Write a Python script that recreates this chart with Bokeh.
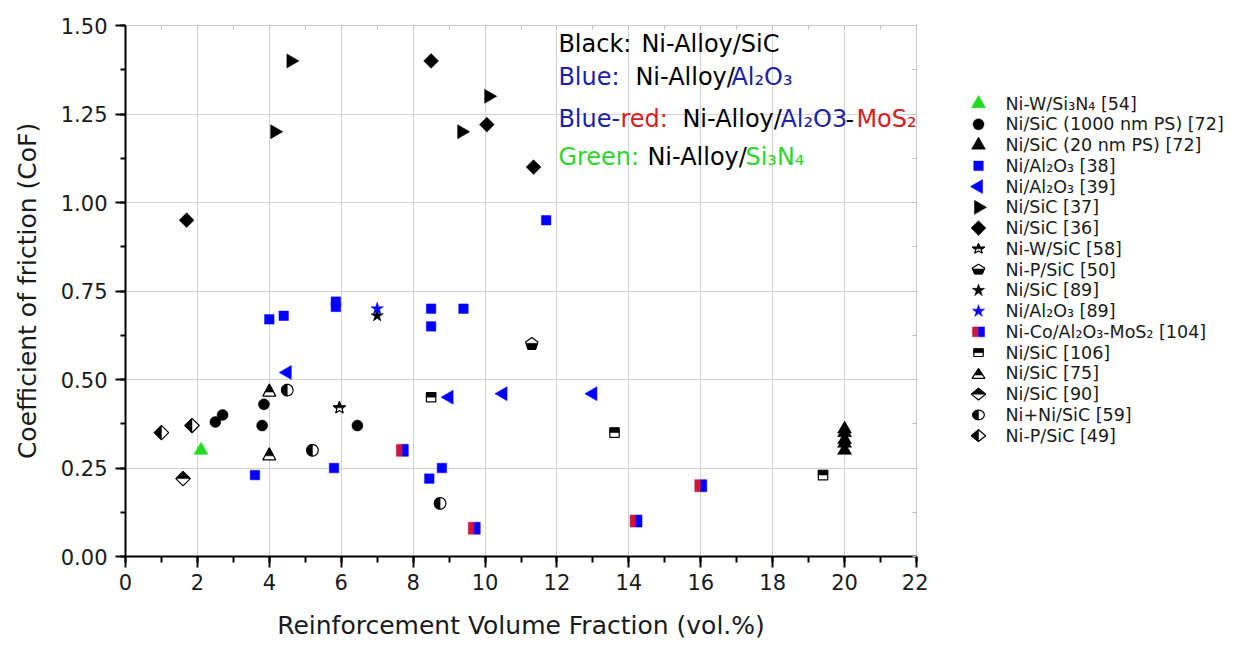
import math
from bokeh.plotting import figure
from bokeh.layouts import row
from bokeh.models import Range1d, Label, FixedTicker, LinearAxis, PrintfTickFormatter
from bokeh.embed import file_html
from bokeh.resources import INLINE
from bokeh.core.properties import value

FONT = "DejaVu Sans"

# ---------------- data ----------------
w_si3n4_54_x = [2.1]
w_si3n4_54_y = [0.30]
sic_1000nm_72_x = [2.5, 2.7, 3.85, 3.8, 6.45]
sic_1000nm_72_y = [0.38, 0.40, 0.43, 0.37, 0.37]
sic_20nm_72_x = [20, 20, 20, 20, 20]
sic_20nm_72_y = [0.30, 0.32, 0.33, 0.35, 0.36]
al2o3_38_x = [3.6, 5.8, 8.45, 8.8, 4.0, 4.4, 5.85, 5.85, 8.5, 8.5, 9.4, 11.7]
al2o3_38_y = [0.23, 0.25, 0.22, 0.25, 0.67, 0.68, 0.705, 0.72, 0.70, 0.65, 0.70, 0.95]
al2o3_39_x = [4.5, 9.0, 10.5, 13.0]
al2o3_39_y = [0.52, 0.45, 0.46, 0.46]
sic_37_x = [4.6, 4.15, 10.1, 9.35]
sic_37_y = [1.40, 1.20, 1.30, 1.20]
sic_36_x = [1.7, 8.5, 10.05, 11.35]
sic_36_y = [0.95, 1.40, 1.22, 1.10]
w_sic_58_x = [5.95]
w_sic_58_y = [0.42]
p_sic_50_x = [11.3]
p_sic_50_y = [0.60]
sic_89_x = [7.0]
sic_89_y = [0.68]
al2o3_89_x = [7.0]
al2o3_89_y = [0.70]
nico_104_x = [7.7, 9.7, 14.2, 16.0]
nico_104_y = [0.30, 0.08, 0.10, 0.20]
sic_106_x = [8.5, 13.6, 19.4]
sic_106_y = [0.45, 0.35, 0.23]
sic_75_x = [4.0, 4.0]
sic_75_y = [0.47, 0.29]
sic_90_x = [1.6]
sic_90_y = [0.22]
nisic_59_x = [4.5, 5.2, 8.75]
nisic_59_y = [0.47, 0.30, 0.15]
p_sic_49_x = [1.0, 1.85]
p_sic_49_y = [0.35, 0.37]

x_ticks = [0, 2, 4, 6, 8, 10, 12, 14, 16, 18, 20, 22]
y_ticks = [0.0, 0.25, 0.5, 0.75, 1.0, 1.25, 1.5]

legend_labels = [
    "Ni-W/Si\u2083N\u2084 [54]", "Ni/SiC (1000 nm PS) [72]", "Ni/SiC (20 nm PS) [72]",
    "Ni/Al\u2082O\u2083  [38]", "Ni/Al\u2082O\u2083  [39]", "Ni/SiC [37]", "Ni/SiC [36]",
    "Ni-W/SiC [58]", "Ni-P/SiC  [50]", "Ni/SiC [89]", "Ni/Al\u2082O\u2083  [89]",
    "Ni-Co/Al\u2082O\u2083-MoS\u2082 [104]", "Ni/SiC  [106]", "Ni/SiC [75]", "Ni/SiC [90]",
    "Ni+Ni/SiC [59]", "Ni-P/SiC  [49]",
]

# ---------------- styles ----------------
BLUE = "#0000ff"
GREEN = "#1fdc1f"
RED = "#d4143c"
TXT_BLUE = "#1f1fa6"
TXT_RED = "#d42020"
TXT_GREEN = "#2fd42f"


def poly_circle(r, n=28):
    return [(r * math.cos(2 * math.pi * k / n), r * math.sin(2 * math.pi * k / n)) for k in range(n)]


def poly_square(h):
    return [(-h, -h), (h, -h), (h, h), (-h, h)]


def poly_diamond(h):
    return [(0, h), (h, 0), (0, -h), (-h, 0)]


def poly_triangle(w, hgt):
    return [(-w / 2, -hgt / 2), (w / 2, -hgt / 2), (0, hgt / 2)]


def poly_pentagon(r):
    return [(r * math.cos(math.pi / 2 + 2 * math.pi * k / 5), r * math.sin(math.pi / 2 + 2 * math.pi * k / 5)) for k in range(5)]


def poly_star(R, ri):
    pts = []
    for k in range(10):
        rr = R if k % 2 == 0 else ri
        a = math.pi / 2 + math.pi * k / 5
        pts.append((rr * math.cos(a), rr * math.sin(a)))
    return pts


def clip(poly, axis, sign, c=0.0):
    out = []
    n = len(poly)
    for i in range(n):
        P, Q = poly[i], poly[(i + 1) % n]
        fp, fq = sign * (P[axis] - c), sign * (Q[axis] - c)
        if fp >= 0:
            out.append(P)
        if (fp >= 0) != (fq >= 0):
            t = fp / (fp - fq)
            out.append((P[0] + t * (Q[0] - P[0]), P[1] + t * (Q[1] - P[1])))
    return out


# marker specifications
series = [
    (w_si3n4_54_x, w_si3n4_54_y, dict(kind="scatter", marker="triangle", size=14, color=GREEN)),
    (sic_1000nm_72_x, sic_1000nm_72_y, dict(kind="scatter", marker="circle", size=11, color="black")),
    (sic_20nm_72_x, sic_20nm_72_y, dict(kind="scatter", marker="triangle", size=14, color="black")),
    (al2o3_38_x, al2o3_38_y, dict(kind="scatter", marker="square", size=9.5, color=BLUE)),
    (al2o3_39_x, al2o3_39_y, dict(kind="scatter", marker="triangle", size=14, color=BLUE, angle=math.pi / 2)),
    (sic_37_x, sic_37_y, dict(kind="scatter", marker="triangle", size=14, color="black", angle=-math.pi / 2)),
    (sic_36_x, sic_36_y, dict(kind="scatter", marker="square", size=10.5, color="black", angle=math.pi / 4)),
    (w_sic_58_x, w_sic_58_y, dict(kind="poly", shape=poly_star(6.5, 2.7), parts=[(clip(poly_star(6.5, 2.7), 1, 1, 0.0), "black")])),
    (p_sic_50_x, p_sic_50_y, dict(kind="poly", shape=poly_pentagon(6.5), parts=[(clip(poly_pentagon(6.5), 1, -1, 0.8), "black")])),
    (sic_89_x, sic_89_y, dict(kind="scatter", marker="star", size=13, color="black")),
    (al2o3_89_x, al2o3_89_y, dict(kind="scatter", marker="star", size=13, color=BLUE)),
    (nico_104_x, nico_104_y, dict(kind="poly", shape=poly_square(6), outline=None,
                                  parts=[(clip(poly_square(6), 0, -1), RED), (clip(poly_square(6), 0, 1), BLUE)])),
    (sic_106_x, sic_106_y, dict(kind="poly", shape=poly_square(4.7), parts=[(clip(poly_square(4.7), 1, 1, 0.0), "black")])),
    (sic_75_x, sic_75_y, dict(kind="poly", shape=poly_triangle(13, 12), parts=[(clip(poly_triangle(13, 12), 1, 1, -2.0), "black")])),
    (sic_90_x, sic_90_y, dict(kind="poly", shape=poly_diamond(7.2), parts=[(clip(poly_diamond(7.2), 1, 1), "black")])),
    (nisic_59_x, nisic_59_y, dict(kind="poly", shape=poly_circle(5.8), parts=[(clip(poly_circle(5.8), 0, -1), "black")])),
    (p_sic_49_x, p_sic_49_y, dict(kind="poly", shape=poly_diamond(7.2), parts=[(clip(poly_diamond(7.2), 0, -1), "black")])),
]


def draw(fig, xs, ys, spec, kx, ky):
    if spec["kind"] == "scatter":
        fig.scatter(xs, ys, marker=spec["marker"], size=spec["size"], fill_color=spec["color"],
                    line_color=spec["color"], line_width=0.5, angle=spec.get("angle", 0.0))
        return

    def place(poly):
        return ([[x + px * kx for px, py in poly] for x in xs],
                [[y + py * ky for px, py in poly] for y in ys])

    outline = spec.get("outline", "black")
    if outline:
        pxs, pys = place(spec["shape"])
        fig.patches(pxs, pys, fill_color="white", line_color=None)
    for poly, col in spec["parts"]:
        pxs, pys = place(poly)
        fig.patches(pxs, pys, fill_color=col, line_color=col, line_width=0.5)
    if outline:
        pxs, pys = place(spec["shape"])
        fig.patches(pxs, pys, fill_color=None, line_color=outline, line_width=1.2)


# ---------------- main figure ----------------
FW, FH = 791, 531
XMAX, YMAX = 22, 1.5
p = figure(frame_width=FW, frame_height=FH, x_range=Range1d(0, XMAX), y_range=Range1d(0, YMAX),
           output_backend="svg", toolbar_location=None,
           min_border_left=125, min_border_right=12, min_border_top=25, min_border_bottom=90)
p.background_fill_color = "white"
p.border_fill_color = "white"
p.outline_line_color = "#c8c8c8"
p.outline_line_width = 1

x_minor = [i for i in range(0, 23)]
y_minor = [i * 0.125 for i in range(0, 13)]
p.xaxis.ticker = FixedTicker(ticks=x_ticks, minor_ticks=x_minor)
p.yaxis.ticker = FixedTicker(ticks=y_ticks, minor_ticks=y_minor)
p.yaxis.formatter = PrintfTickFormatter(format="%.2f")
for ax in (p.xaxis[0], p.yaxis[0]):
    ax.axis_line_color = "black"
    ax.axis_line_width = 2
    ax.major_tick_line_color = "black"
    ax.major_tick_line_width = 2
    ax.minor_tick_line_color = "black"
    ax.minor_tick_line_width = 2
    ax.major_tick_in = 0
    ax.minor_tick_in = 0
    ax.major_label_text_font = FONT
    ax.major_label_text_font_size = "21px"
    ax.major_label_text_color = "#1a1a1a"
    ax.axis_label_text_font = FONT
    ax.axis_label_text_font_size = "25px"
    ax.axis_label_text_font_style = "normal"
    ax.axis_label_text_color = "#1a1a1a"
p.xaxis.major_tick_out = 11
p.xaxis.minor_tick_out = 6
p.yaxis.major_tick_out = 10
p.yaxis.minor_tick_out = 5
p.xaxis.major_label_standoff = 6
p.yaxis.major_label_standoff = 8
p.xaxis.axis_label = "Reinforcement Volume Fraction (vol.%)"
p.yaxis.axis_label = "Coefficient of friction (CoF)"
p.xaxis.axis_label_standoff = 18
p.yaxis.axis_label_standoff = 16

p.xgrid.ticker = FixedTicker(ticks=x_ticks)
p.ygrid.ticker = FixedTicker(ticks=y_ticks)
p.grid.grid_line_color = "#d2d2d2"
p.grid.grid_line_width = 1

# light inner minor ticks on the top and right frame edges (no labels)
top_ax = LinearAxis(ticker=FixedTicker(ticks=[], minor_ticks=x_minor),
                    axis_line_color=None, major_tick_out=0, major_tick_in=0, minor_tick_out=0, minor_tick_in=4,
                    minor_tick_line_color="#bdbdbd", major_label_standoff=0)
right_ax = LinearAxis(ticker=FixedTicker(ticks=[], minor_ticks=y_minor),
                      axis_line_color=None, major_tick_out=0, major_tick_in=0, minor_tick_out=0, minor_tick_in=4,
                      minor_tick_line_color="#bdbdbd", major_label_standoff=0)
p.add_layout(top_ax, "above")
p.add_layout(right_ax, "right")

KX = XMAX / FW
KY = YMAX / FH
for xs, ys, spec in series:
    draw(p, xs, ys, spec, KX, KY)

# annotation block (segments with colours)
ANN_X = 12.04
ann = [
    (1.449, [(0, "Black:", "black"), (83, "Ni-Alloy/SiC", "black")]),
    (1.354, [(0, "Blue:", TXT_BLUE), (77, "Ni-Alloy/", "black"), (173, "Al\u2082O\u2083", TXT_BLUE)]),
    (1.237, [(0, "Blue-", TXT_BLUE), (62, "red:", TXT_RED), (124, "Ni-Alloy/", "black"),
             (222, "Al\u2082O3", TXT_BLUE), (287, "-", "black"), (298, "MoS\u2082", TXT_RED)]),
    (1.128, [(0, "Green:", TXT_GREEN), (89, "Ni-Alloy/", "black"), (187, "Si\u2083N\u2084", TXT_GREEN)]),
]
for yv, segs in ann:
    for off, txt, col in segs:
        p.add_layout(Label(x=ANN_X, y=yv, x_offset=off, text=txt, text_color=col, text_font=FONT,
                           text_font_size="24px", text_baseline="middle", text_align="left"))

# ---------------- legend figure ----------------
LW = 1233 - 928
lg = figure(width=LW, height=646, x_range=Range1d(0, LW), y_range=Range1d(646, 0),
            output_backend="svg", toolbar_location=None, x_axis_type=None, y_axis_type=None,
            min_border=0, min_border_left=0, min_border_right=0, min_border_top=0, min_border_bottom=0)
lg.grid.visible = False
lg.outline_line_color = None
lg.background_fill_color = "white"
lg.border_fill_color = "white"

ROW0, ROWH = 95, 25.25
MX, TX = 50, 77
rows_y = [ROW0 + i * ROWH for i in range(len(legend_labels))]
for i, (xs, ys, spec) in enumerate(series):
    draw(lg, [MX], [rows_y[i]], spec, 1.0, -1.0)
lg.text(x=[TX] * len(legend_labels), y=rows_y, text=legend_labels, text_font=value(FONT),
        text_font_size="17.5px", text_color="#1a1a1a", text_baseline="middle", text_align="left")

layout = row(p, lg, spacing=0)
open("out.html", "w").write(file_html(layout, INLINE))
